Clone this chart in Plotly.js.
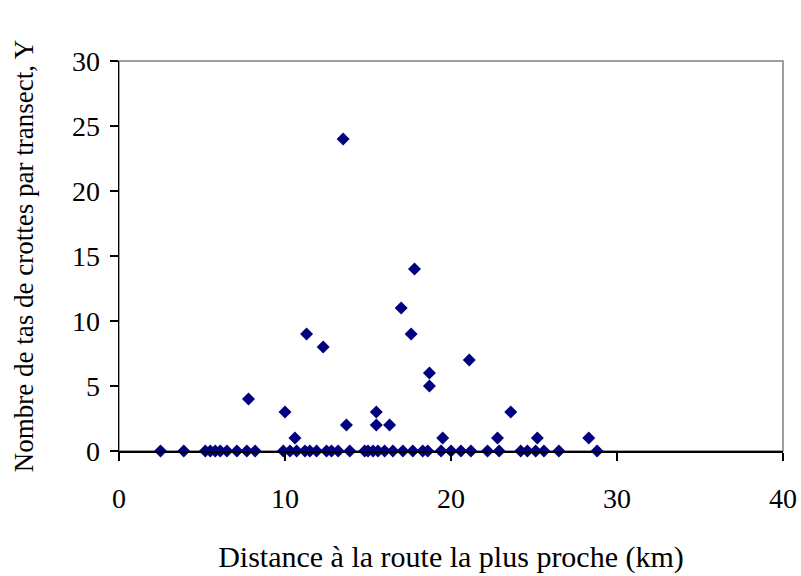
<!DOCTYPE html>
<html>
<head>
<meta charset="utf-8">
<script src="https://cdn.plot.ly/plotly-3.0.1.min.js"></script>
<style>html,body{margin:0;padding:0;background:#fff;}#chart{width:801px;height:576px;}</style>
</head>
<body>
<div id="chart"></div>
<script>
// Distance to nearest road (km)
const distance = [
  2.5, 3.9, 5.2, 5.5, 5.8, 6.1, 6.5, 7.1, 7.7, 8.2,
  7.8,
  9.9, 10.3, 10.7, 11.2, 11.5, 11.9, 12.5, 12.8, 13.2, 13.9,
  10.0, 10.6, 11.3, 12.3, 13.5, 13.7,
  14.8, 15.0, 15.3, 15.6, 16.0, 16.5, 17.1, 17.7, 18.3, 18.6,
  15.5, 15.5, 16.3, 17.0, 17.6, 17.8, 18.7, 18.7,
  19.4, 20.0, 20.6, 21.2, 22.2, 22.9, 24.2, 24.6, 25.1, 25.6, 26.5, 28.8,
  19.5, 21.1, 22.8, 23.6, 25.2, 28.3
];
// Number of dung piles per transect
const piles = [
  0, 0, 0, 0, 0, 0, 0, 0, 0, 0,
  4,
  0, 0, 0, 0, 0, 0, 0, 0, 0, 0,
  3, 1, 9, 8, 24, 2,
  0, 0, 0, 0, 0, 0, 0, 0, 0, 0,
  3, 2, 2, 11, 9, 14, 6, 5,
  0, 0, 0, 0, 0, 0, 0, 0, 0, 0, 0, 0,
  1, 7, 1, 3, 1, 1
];
const xTicks = [0, 10, 20, 30, 40];
const yTicks = [0, 5, 10, 15, 20, 25, 30];

const font = {family: '"Liberation Serif", "Times New Roman", serif', color: '#000'};

Plotly.newPlot('chart', [{
  x: distance, y: piles, type: 'scatter', mode: 'markers',
  marker: {symbol: 'diamond', size: 10, color: '#000080'},
  cliponaxis: false, hoverinfo: 'x+y'
}], {
  width: 801, height: 576,
  margin: {l: 119, r: 18, t: 61, b: 125},
  paper_bgcolor: '#fff', plot_bgcolor: '#fff',
  showlegend: false,
  font: Object.assign({size: 28}, font),
  xaxis: {
    range: [0, 40], tickvals: xTicks, ticktext: xTicks.map(String),
    showgrid: false, zeroline: false, showline: true, linecolor: '#000', linewidth: 1.5,
    ticks: 'outside', ticklen: 8, tickcolor: '#000', tickwidth: 1.5,
    ticklabelstandoff: 14,
    tickfont: Object.assign({size: 28}, font),
    title: {text: 'Distance à la route la plus proche (km)', font: Object.assign({size: 30}, font), standoff: 33},
    automargin: false, fixedrange: true
  },
  yaxis: {
    range: [0, 30], tickvals: yTicks, ticktext: yTicks.map(String),
    showgrid: false, zeroline: false, showline: true, linecolor: '#000', linewidth: 1.5,
    ticks: 'outside', ticklen: 8, tickcolor: '#000', tickwidth: 1.5,
    ticklabelstandoff: 4,
    tickfont: Object.assign({size: 28}, font),
    title: {text: 'Nombre de tas de crottes par transect, Y', font: Object.assign({size: 27}, font), standoff: 30},
    automargin: false, fixedrange: true
  },
  shapes: [{
    type: 'rect', xref: 'paper', yref: 'paper', x0: 0, x1: 1, y0: 0, y1: 1,
    line: {color: '#808080', width: 1.5}, layer: 'below'
  }]
}, {staticPlot: true});
</script>
</body>
</html>
